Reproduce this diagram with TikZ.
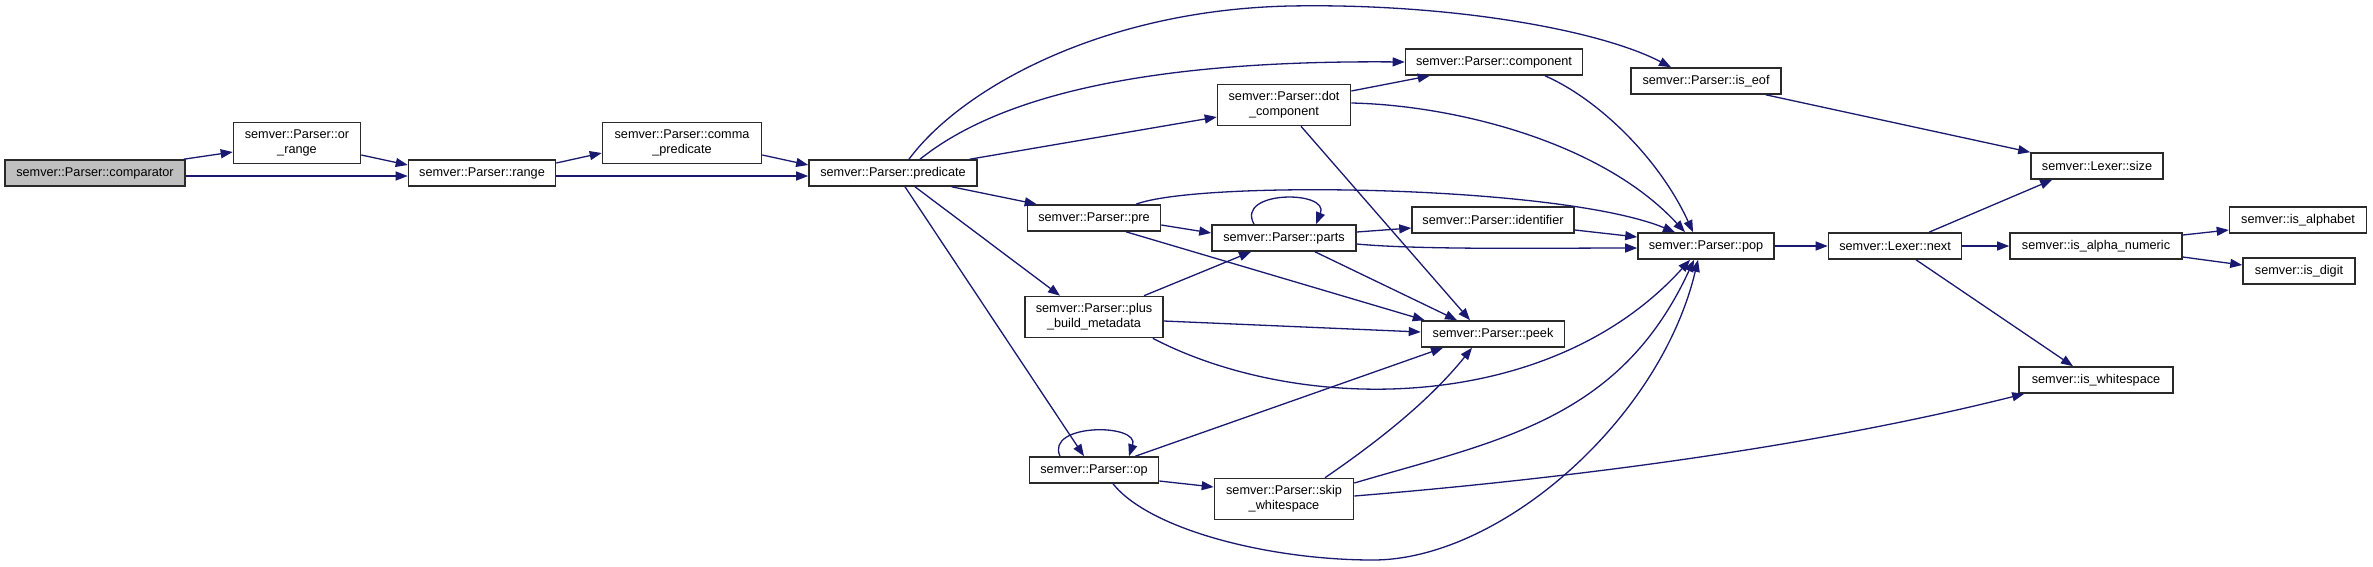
\documentclass[tikz,border=0pt]{standalone}
\usepackage{fontspec}
\setmainfont{Liberation Sans}
\usetikzlibrary{arrows.meta}
\definecolor{edgec}{HTML}{191970}
\definecolor{boxc}{HTML}{2A2A2A}
\definecolor{grayfill}{HTML}{BFBFBF}
\begin{document}
\begin{tikzpicture}[x=1pt,y=-1pt,
  fn/.style={draw=boxc,line width=1.6pt,fill=white,inner sep=0pt,minimum height=26pt,
    font=\fontsize{12.7}{14.7}\selectfont,align=center},
  fn2/.style={fn,minimum height=41pt},
  e/.style={draw=edgec,line width=1.3pt,-{Triangle[length=12pt,width=9pt]}}]
\useasboundingbox[fill=white] (0,0) rectangle (2373,566);
% nodes
\node[fn,fill=grayfill,minimum width=180pt] (cmp) at (95,173) {semver::Parser::comparator};
\node[fn2,minimum width=127pt] (orr) at (297,143) {semver::Parser::or\\\_range};
\node[fn,minimum width=147pt] (rng) at (482,173) {semver::Parser::range};
\node[fn2,minimum width=159pt] (cpr) at (682,143) {semver::Parser::comma\\\_predicate};
\node[fn,minimum width=168pt] (prd) at (893,173) {semver::Parser::predicate};
\node[fn,minimum width=177pt] (cmpn) at (1494,62) {semver::Parser::component};
\node[fn2,minimum width=133pt] (dot) at (1284,105) {semver::Parser::dot\\\_component};
\node[fn,minimum width=150pt] (eof) at (1706,81) {semver::Parser::is\_eof};
\node[fn,minimum width=133pt] (pre) at (1094,218) {semver::Parser::pre};
\node[fn,minimum width=144pt] (parts) at (1284,238) {semver::Parser::parts};
\node[fn,minimum width=162pt] (ident) at (1493,220) {semver::Parser::identifier};
\node[fn,minimum width=136pt] (pop) at (1706,246) {semver::Parser::pop};
\node[fn2,minimum width=138pt] (plus) at (1094,317) {semver::Parser::plus\\\_build\_metadata};
\node[fn,minimum width=143pt] (peek) at (1493,334) {semver::Parser::peek};
\node[fn,minimum width=129pt] (op) at (1094,470) {semver::Parser::op};
\node[fn2,minimum width=139pt] (skip) at (1284,499) {semver::Parser::skip\\\_whitespace};
\node[fn,minimum width=132pt] (size) at (2097,166) {semver::Lexer::size};
\node[fn,minimum width=133pt] (next) at (1895,246) {semver::Lexer::next};
\node[fn,minimum width=172pt] (anum) at (2096,246) {semver::is\_alpha\_numeric};
\node[fn,minimum width=137pt] (alph) at (2298,220) {semver::is\_alphabet};
\node[fn,minimum width=112pt] (dig) at (2299,271) {semver::is\_digit};
\node[fn,minimum width=154pt] (ws) at (2096,380) {semver::is\_whitespace};
% edges
\draw[e] ([xshift=-2pt]cmp.north east) -- ([yshift=-9pt]orr.west);
\draw[e] ([yshift=-3pt]cmp.east) -- ([yshift=-3pt]rng.west);
\draw[e] ([yshift=-12pt]orr.east) -- ([yshift=8pt]rng.west);
\draw[e] ([yshift=10pt]rng.east) -- ([yshift=-10pt]cpr.west);
\draw[e] ([yshift=-3pt]rng.east) -- ([yshift=-3pt]prd.west);
\draw[e] ([yshift=-12pt]cpr.east) -- ([yshift=8pt]prd.west);
\draw[e] ([xshift=16pt]prd.north) .. controls (960,90) and (1100,10) .. (1290,6)
  .. controls (1450,3) and (1600,30) .. ([xshift=-35pt]eof.north);
\draw[e] ([xshift=27pt]prd.north) .. controls (1000,95) and (1150,60) .. (cmpn.west);
\draw[e] ([xshift=-8pt]prd.north east) -- ([yshift=-12pt]dot.west);
\draw[e] ([xshift=-26pt]prd.south east) -- ([xshift=10pt]pre.north west);
\draw[e] ([xshift=22pt]prd.south) -- ([xshift=-34pt]plus.north);
\draw[e] ([xshift=12pt]prd.south) -- ([xshift=-10pt]op.north);
\draw[e] ([yshift=14pt]dot.east) -- ([xshift=25pt]cmpn.south west);
\draw[e] ([yshift=2pt]dot.east) .. controls (1450,105) and (1600,140) .. ([xshift=-21pt]pop.north);
\draw[e] ([xshift=17pt]dot.south) -- ([xshift=-23pt]peek.north);
\draw[e] ([xshift=51pt]cmpn.south) .. controls (1600,100) and (1660,160) .. ([xshift=-13pt]pop.north);
\draw[e] ([xshift=-16pt]eof.south east) -- (size.north west);
\draw[e] ([yshift=-7pt]pre.east) -- ([yshift=5pt]parts.west);
\draw[e] ([xshift=42pt]pre.north) .. controls (1200,180) and (1560,185) .. ([xshift=-31pt]pop.north);
\draw[e] ([xshift=32pt]pre.south) -- ([xshift=4pt]peek.north west);
\draw[e] ([xshift=-30pt]parts.north) .. controls (1235,190) and (1330,190) .. ([xshift=32pt]parts.north);
\draw[e] ([yshift=6pt]parts.east) -- ([yshift=-8pt]ident.west);
\draw[e] ([yshift=-6pt]parts.east) .. controls (1420,250) and (1550,248) .. ([yshift=-2pt]pop.west);
\draw[e] ([xshift=31pt]parts.south) -- ([xshift=-36pt]peek.north);
\draw[e] ([yshift=-10pt]ident.east) -- ([yshift=9pt]pop.west);
\draw[e] ([xshift=50pt]plus.north) -- ([xshift=-33pt]parts.south);
\draw[e] ([yshift=-4pt]plus.east) -- ([yshift=2pt]peek.west);
\draw[e] ([xshift=-11pt]plus.south east) .. controls (1300,415) and (1550,415) .. ([xshift=-16pt]pop.south);
\draw[e] ([xshift=-34pt]op.north) .. controls (1045,423) and (1140,423) .. ([xshift=35pt]op.north);
\draw[e] ([xshift=-24pt]op.north east) -- ([xshift=-50pt]peek.south);
\draw[e] ([yshift=-11pt]op.east) -- ([yshift=12pt]skip.west);
\draw[e] ([xshift=19pt]op.south) .. controls (1150,530) and (1270,560) .. (1373,560)
  .. controls (1500,560) and (1660,420) .. ([xshift=-8pt]pop.south);
\draw[e] ([xshift=41pt]skip.north) .. controls (1380,440) and (1430,400) .. ([xshift=-21pt]peek.south);
\draw[e] ([yshift=16pt]skip.east) .. controls (1500,440) and (1620,420) .. ([xshift=-12pt]pop.south);
\draw[e] ([yshift=3pt]skip.east) .. controls (1550,480) and (1800,450) .. ([xshift=6pt]ws.south west);
\draw[e] (pop.east) -- (next.west);
\draw[e] ([xshift=34pt]next.north) -- ([xshift=22pt]size.south west);
\draw[e] (next.east) -- (anum.west);
\draw[e] ([xshift=21pt]next.south) -- ([xshift=-23pt]ws.north);
\draw[e] ([yshift=11pt]anum.east) -- ([yshift=-10pt]alph.west);
\draw[e] ([yshift=-11pt]anum.east) -- ([yshift=6pt]dig.west);
\end{tikzpicture}
\end{document}
